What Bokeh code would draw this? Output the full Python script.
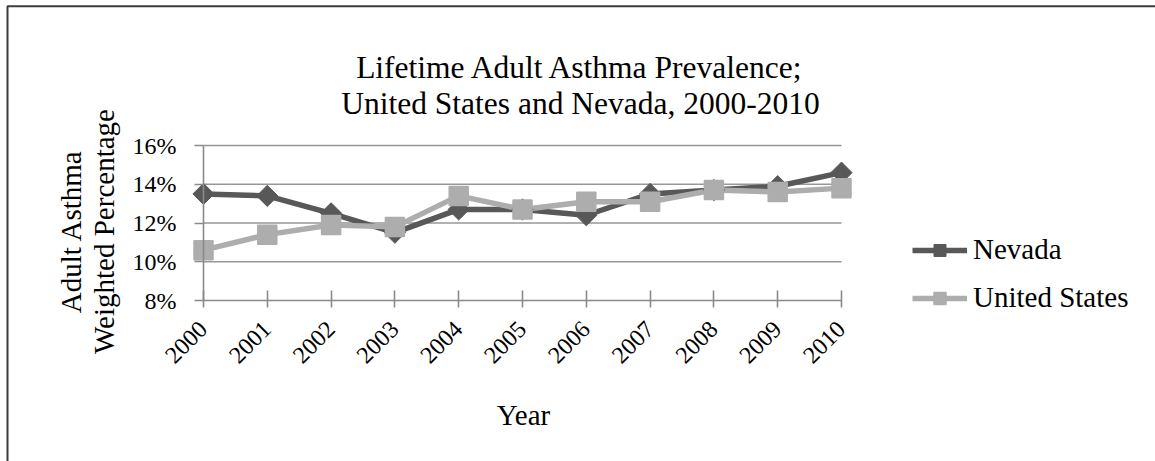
from math import pi

from bokeh.embed import file_html
from bokeh.models import (BoxAnnotation, FixedTicker, Label, Legend,
                          LegendItem, Range1d)
from bokeh.plotting import figure
from bokeh.resources import INLINE

# Lifetime adult asthma prevalence (weighted %), 2000-2010
years = [2000, 2001, 2002, 2003, 2004, 2005, 2006, 2007, 2008, 2009, 2010]
year_labels = ["2000", "2001", "2002", "2003", "2004", "2005",
               "2006", "2007", "2008", "2009", "2010"]
nevada = [13.5, 13.4, 12.5, 11.5, 12.7, 12.7, 12.4, 13.5, 13.7, 13.9, 14.6]
united_states = [10.6, 11.4, 11.9, 11.8, 13.4, 12.7, 13.1, 13.1, 13.7, 13.6, 13.8]
y_ticks = [8, 10, 12, 14, 16]
y_tick_labels = ["8%", "10%", "12%", "14%", "16%"]

title_lines = ["Lifetime Adult Asthma Prevalence;",
               "United States and Nevada, 2000-2010"]
y_title_lines = ["Adult Asthma", "Weighted Percentage"]
x_title = "Year"

SERIF = "Liberation Serif"
NV_COLOR = "#585858"
US_COLOR = "#adadad"
AXIS_COLOR = "#8a8a8a"
GRID_COLOR = "#979797"

# page size and where the plotting area sits on it (pixels from top-left)
W, H = 1155, 461
AREA_L, AREA_R, AREA_T, AREA_B = 203, 841, 145, 300

# the frame covers the whole canvas; ranges are stretched so that the
# year span and the percentage span land on the plotting area
px_x = (AREA_R - AREA_L) / (years[-1] - years[0])
px_y = (AREA_B - AREA_T) / (y_ticks[-1] - y_ticks[0])
x_range = Range1d(years[0] - AREA_L / px_x, years[-1] + (W - AREA_R) / px_x)
y_range = Range1d(y_ticks[0] - (H - AREA_B) / px_y, y_ticks[-1] + AREA_T / px_y)

p = figure(width=W, height=H, x_range=x_range, y_range=y_range,
           output_backend="svg", toolbar_location=None, min_border=0)
p.title.visible = False
p.outline_line_color = None
p.background_fill_color = "white"
p.border_fill_color = "white"
p.xgrid.visible = False
p.ygrid.visible = False

# horizontal gridlines limited to the year span
p.segment(x0=years[0], x1=years[-1], y0=y_ticks[1:], y1=y_ticks[1:],
          line_color=GRID_COLOR, line_width=1.6)

# x axis along the 8% line
xa = p.xaxis[0]
xa.fixed_location = y_ticks[0]
xa.ticker = FixedTicker(ticks=years)
xa.major_label_overrides = {y: s for y, s in zip(years, year_labels)}
xa.bounds = (years[0], years[-1])
xa.major_label_orientation = pi / 4
xa.axis_line_color = AXIS_COLOR
xa.axis_line_width = 1.6
xa.major_tick_line_color = AXIS_COLOR
xa.major_tick_line_width = 1.6
xa.major_tick_in = 10
xa.major_tick_out = 7
xa.minor_tick_line_color = None
xa.major_label_standoff = 18
xa.major_label_text_font = SERIF
xa.major_label_text_font_size = "24px"
xa.major_label_text_color = "black"

# y axis on the first year
ya = p.yaxis[0]
ya.fixed_location = years[0]
ya.ticker = FixedTicker(ticks=y_ticks)
ya.major_label_overrides = {t: s for t, s in zip(y_ticks, y_tick_labels)}
ya.bounds = (y_ticks[0], y_ticks[-1])
ya.axis_line_color = AXIS_COLOR
ya.axis_line_width = 1.6
ya.major_tick_line_color = AXIS_COLOR
ya.major_tick_line_width = 1.6
ya.major_tick_in = 0
ya.major_tick_out = 9
ya.minor_tick_line_color = None
ya.major_label_standoff = 18
ya.major_label_text_font = SERIF
ya.major_label_text_font_size = "24px"
ya.major_label_text_color = "black"

# series
nv_line = p.line(years, nevada, line_color=NV_COLOR, line_width=5.5,
                 line_join="round")
us_line = p.line(years, united_states, line_color=US_COLOR, line_width=5.5,
                 line_join="round")
nv_pts = p.scatter(years, nevada, marker="square", angle=pi / 4, size=15,
                   fill_color=NV_COLOR, line_color=NV_COLOR, line_width=1)
us_pts = p.scatter(years, united_states, marker="square", size=19,
                   fill_color=US_COLOR, line_color=US_COLOR, line_width=1.5)

legend = Legend(items=[LegendItem(label="Nevada", renderers=[nv_line, nv_pts]),
                       LegendItem(label="United States", renderers=[us_line, us_pts])],
                location=(912, H - 314), orientation="vertical",
                glyph_width=55, glyph_height=30, label_height=30,
                label_standoff=6, spacing=15, padding=0, margin=0,
                border_line_alpha=0, background_fill_alpha=0,
                label_text_font=SERIF, label_text_font_size="29px",
                label_text_color="black")
p.add_layout(legend, "center")


def text_label(txt, x, y_from_top, size, angle=0.0):
    # screen units count y upward from the bottom of the canvas
    return Label(x=x, y=H - y_from_top, x_units="screen", y_units="screen",
                 text=txt, angle=angle, text_align="center",
                 text_baseline="alphabetic", text_font=SERIF,
                 text_font_size=size, text_color="black")


# chart title, two lines
for txt, base in zip(title_lines, [66.7, 103.3]):
    p.add_layout(text_label(txt, 580, base, "31.5px"))

# vertical axis title, two lines
for txt, base in zip(y_title_lines, [70, 103.5]):
    p.add_layout(text_label(txt, base, 231, "29px", angle=pi / 2))

# horizontal axis title
p.add_layout(text_label(x_title, 523, 414, "29px"))

# chart area border (left and top edges show on the page)
p.add_layout(BoxAnnotation(left=7, right=W + 50, top=H - 5.7, bottom=-50,
                           left_units="screen", right_units="screen",
                           top_units="screen", bottom_units="screen",
                           fill_alpha=0, line_alpha=1, line_color="#3c3c3c",
                           line_width=2))

open("out.html", "w").write(file_html(p, INLINE))
